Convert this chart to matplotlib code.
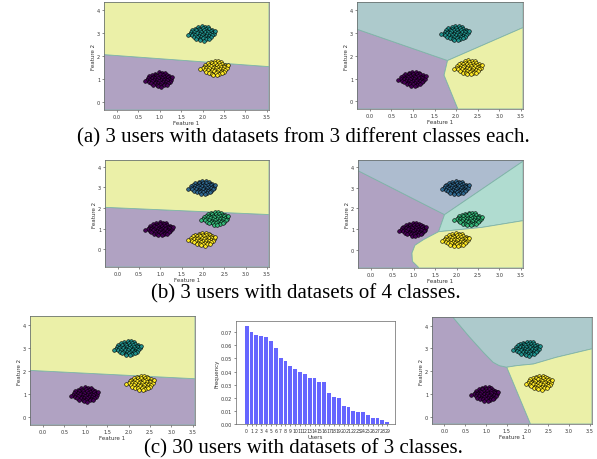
import matplotlib.pyplot as plt
import numpy as np

W, H = 597, 460

# cluster centres (feature 1, feature 2) and class colours
CENTERS_3 = [(1.0, 1.0), (2.0, 3.0), (2.3, 1.5)]
CENTERS_4 = [(1.0, 1.0), (2.0, 3.0), (2.3, 1.5), (2.0, 0.5)]
COLORS_3 = ["#440154", "#21918c", "#fde725"]
COLORS_4 = ["#440154", "#31688e", "#35b779", "#fde725"]

# hand-read point cloud around a cluster centre
BLOB_DX = [-0.02, 0.06, 0.13, -0.10, -0.18, -0.09, 0.00, 0.08, 0.16, 0.22,
           -0.24, -0.15, -0.06, 0.03, 0.11, 0.19, 0.26, -0.27, -0.19, -0.11,
           -0.03, 0.05, 0.13, 0.21, -0.29, -0.22, -0.14, -0.06, 0.02, 0.10,
           0.18, 0.27, -0.25, -0.17, -0.09, -0.01, 0.07, 0.15, 0.23, -0.21,
           -0.12, -0.04, 0.04, 0.12, 0.20, -0.15, -0.07, 0.01, 0.09, 0.16,
           -0.05, 0.04, -0.35, 0.29]
BLOB_DY = [0.30, 0.28, 0.26, 0.25, 0.20, 0.19, 0.21, 0.20, 0.18, 0.14,
           0.13, 0.12, 0.13, 0.12, 0.11, 0.09, 0.06, 0.05, 0.04, 0.06,
           0.04, 0.05, 0.03, 0.02, -0.03, -0.02, -0.01, -0.03, -0.02, -0.04,
           -0.05, -0.02, -0.10, -0.09, -0.11, -0.09, -0.11, -0.12, -0.10, -0.17,
           -0.18, -0.16, -0.18, -0.19, -0.17, -0.24, -0.25, -0.23, -0.26, -0.24,
           -0.31, -0.32, -0.07, 0.10]

# region colours of the decision maps
PURPLE = "#b0a2c2"
YELLOW = "#ebf0a8"
TEAL = "#adcacc"
BLUEGRAY = "#adbccf"
GREEN = "#b0dcd0"

XLIM = (-0.3, 3.55)
YLIM_A = (-0.33, 4.35)
YLIM_B = (-0.86, 4.32)
YLIM_C = (-0.33, 4.38)

# (a) left: linear boundary
A1_BX = [-0.3, 3.55]
A1_BY = [2.07, 1.55]
# (a) right: three regions
A2_PURPLE = [(-0.3, -0.33), (2.04, -0.33), (1.72, 1.15), (1.80, 1.79), (-0.3, 3.16)]
A2_TEAL = [(-0.3, 3.16), (1.80, 1.79), (3.55, 3.23), (3.55, 4.35), (-0.3, 4.35)]
A2_YELLOW = [(1.80, 1.79), (1.72, 1.15), (2.04, -0.33), (3.55, -0.33), (3.55, 3.23)]
# (b) left
B1_BX = [-0.3, 3.55]
B1_BY = [2.03, 1.68]
# (b) right: four regions
B2_PURPLE = [(-0.3, -0.86), (1.12, -0.86), (1.10, -0.80), (0.97, -0.54), (0.96, -0.14),
             (1.03, 0.23), (1.23, 0.50), (1.58, 0.88), (1.72, 1.70), (-0.3, 3.81)]
B2_BLUE = [(-0.3, 3.81), (1.72, 1.70), (3.55, 4.26), (3.55, 4.32), (-0.3, 4.32)]
B2_GREEN = [(1.72, 1.70), (1.58, 0.88), (2.60, 1.09), (3.55, 1.41), (3.55, 4.26)]
B2_YELLOW = [(1.12, -0.86), (1.10, -0.80), (0.97, -0.54), (0.96, -0.14), (1.03, 0.23),
             (1.23, 0.50), (1.58, 0.88), (2.60, 1.09), (3.55, 1.41), (3.55, -0.86)]
# (c) left
C1_BX = [-0.3, 3.55]
C1_BY = [2.03, 1.67]
# (c) right: curved boundaries
C3_PURPLE = [(-0.3, -0.33), (2.07, -0.33), (1.50, 2.17), (1.32, 2.24), (1.17, 2.39),
             (0.94, 2.82), (0.59, 3.53), (0.20, 4.38), (-0.3, 4.38)]
C3_TEAL = [(0.20, 4.38), (0.59, 3.53), (0.94, 2.82), (1.17, 2.39), (1.32, 2.24), (1.50, 2.17),
           (1.75, 2.24), (2.14, 2.31), (2.68, 2.60), (3.55, 2.98), (3.55, 4.38)]
C3_YELLOW = [(1.50, 2.17), (1.75, 2.24), (2.14, 2.31), (2.68, 2.60), (3.55, 2.98),
             (3.55, -0.33), (2.07, -0.33)]

# (c) middle: frequency of samples per user
USERS = list(range(30))
FREQ = [0.0748, 0.0702, 0.0680, 0.0672, 0.0665, 0.0634, 0.0581, 0.0505, 0.0484, 0.0441,
        0.0418, 0.0400, 0.0383, 0.0347, 0.0347, 0.0324, 0.0324, 0.0236, 0.0203, 0.0198,
        0.0139, 0.0129, 0.0101, 0.0094, 0.0091, 0.0071, 0.0048, 0.0048, 0.0028, 0.0015]

CAPTIONS = ["(a) 3 users with datasets from 3 different classes each.",
            "(b) 3 users with datasets of 4 classes.",
            "(c) 30 users with datasets of 3 classes."]

fig = plt.figure(figsize=(W / 100, H / 100), dpi=100)


def px_axes(left, top, right, bottom):
    return fig.add_axes([left / W, 1 - bottom / H, (right - left) / W, (bottom - top) / H])


def style(ax):
    ax.tick_params(labelsize=3.6, length=1.5, width=0.4, pad=1.2, colors="#333333")
    for s in ax.spines.values():
        s.set_linewidth(0.5)
        s.set_color("#666666")


def split_regions(bx, by, ylim):
    below = list(zip(bx, by)) + [(bx[-1], ylim[0]), (bx[0], ylim[0])]
    above = list(zip(bx, by)) + [(bx[-1], ylim[1]), (bx[0], ylim[1])]
    return [(below, PURPLE), (above, YELLOW)]


def decision_panel(ax, regions, centers, colors, ylim):
    for poly, col in regions:
        xs, ys = zip(*poly)
        ax.fill(xs, ys, color=col, lw=0.6, ec="#7fb3a8")
    for (cx, cy), col in zip(centers, colors):
        ax.scatter(cx + np.array(BLOB_DX), cy + np.array(BLOB_DY), s=7, c=col,
                   edgecolors="k", linewidths=0.4, zorder=3)
    ax.set_xlim(XLIM)
    ax.set_ylim(ylim)
    ax.set_xticks(np.arange(0, 3.6, 0.5))
    ax.set_yticks(range(5))
    ax.set_xlabel("Feature 1", fontsize=4, labelpad=1, color="#333333")
    ax.set_ylabel("Feature 2", fontsize=4, labelpad=1, color="#333333")
    style(ax)


ax = px_axes(104, 3, 269, 111)
decision_panel(ax, split_regions(A1_BX, A1_BY, YLIM_A), CENTERS_3, COLORS_3, YLIM_A)

ax = px_axes(357, 3, 523, 110)
decision_panel(ax, [(A2_PURPLE, PURPLE), (A2_TEAL, TEAL), (A2_YELLOW, YELLOW)],
               CENTERS_3, COLORS_3, YLIM_A)

ax = px_axes(105, 161, 269, 268)
decision_panel(ax, split_regions(B1_BX, B1_BY, YLIM_B), CENTERS_4, COLORS_4, YLIM_B)

ax = px_axes(358, 161, 523, 269)
decision_panel(ax, [(B2_PURPLE, PURPLE), (B2_BLUE, BLUEGRAY), (B2_GREEN, GREEN), (B2_YELLOW, YELLOW)],
               CENTERS_4, COLORS_4, YLIM_B)

ax = px_axes(30, 317, 195, 426)
decision_panel(ax, split_regions(C1_BX, C1_BY, YLIM_C), CENTERS_3, COLORS_3, YLIM_C)

ax = px_axes(236, 322, 395, 425)
ax.bar(USERS, FREQ, width=0.8, color="blue", alpha=0.6)
ax.set_xticks(USERS)
ax.set_xticklabels([str(u) for u in USERS])
ax.set_yticks(np.arange(0, 0.075, 0.01))
ax.yaxis.set_major_formatter(plt.FormatStrFormatter("%.2f"))
ax.set_xlim(-2.2, 30.6)
ax.set_xlabel("Users", fontsize=4, labelpad=1, color="#333333")
ax.set_ylabel("Frequency", fontsize=4, labelpad=1, color="#333333")
style(ax)
ax.tick_params(axis="x", labelsize=3.3)

ax = px_axes(432, 318, 592, 425)
decision_panel(ax, [(C3_PURPLE, PURPLE), (C3_TEAL, TEAL), (C3_YELLOW, YELLOW)],
               CENTERS_3, COLORS_3, YLIM_C)

for text, (cx, cy) in zip(CAPTIONS, [(303, 138), (306, 294), (303.5, 449)]):
    fig.text(cx / W, 1 - cy / H, text, family="Liberation Serif", fontsize=15,
             ha="center", va="center")

fig.savefig("out.png", dpi=100)
